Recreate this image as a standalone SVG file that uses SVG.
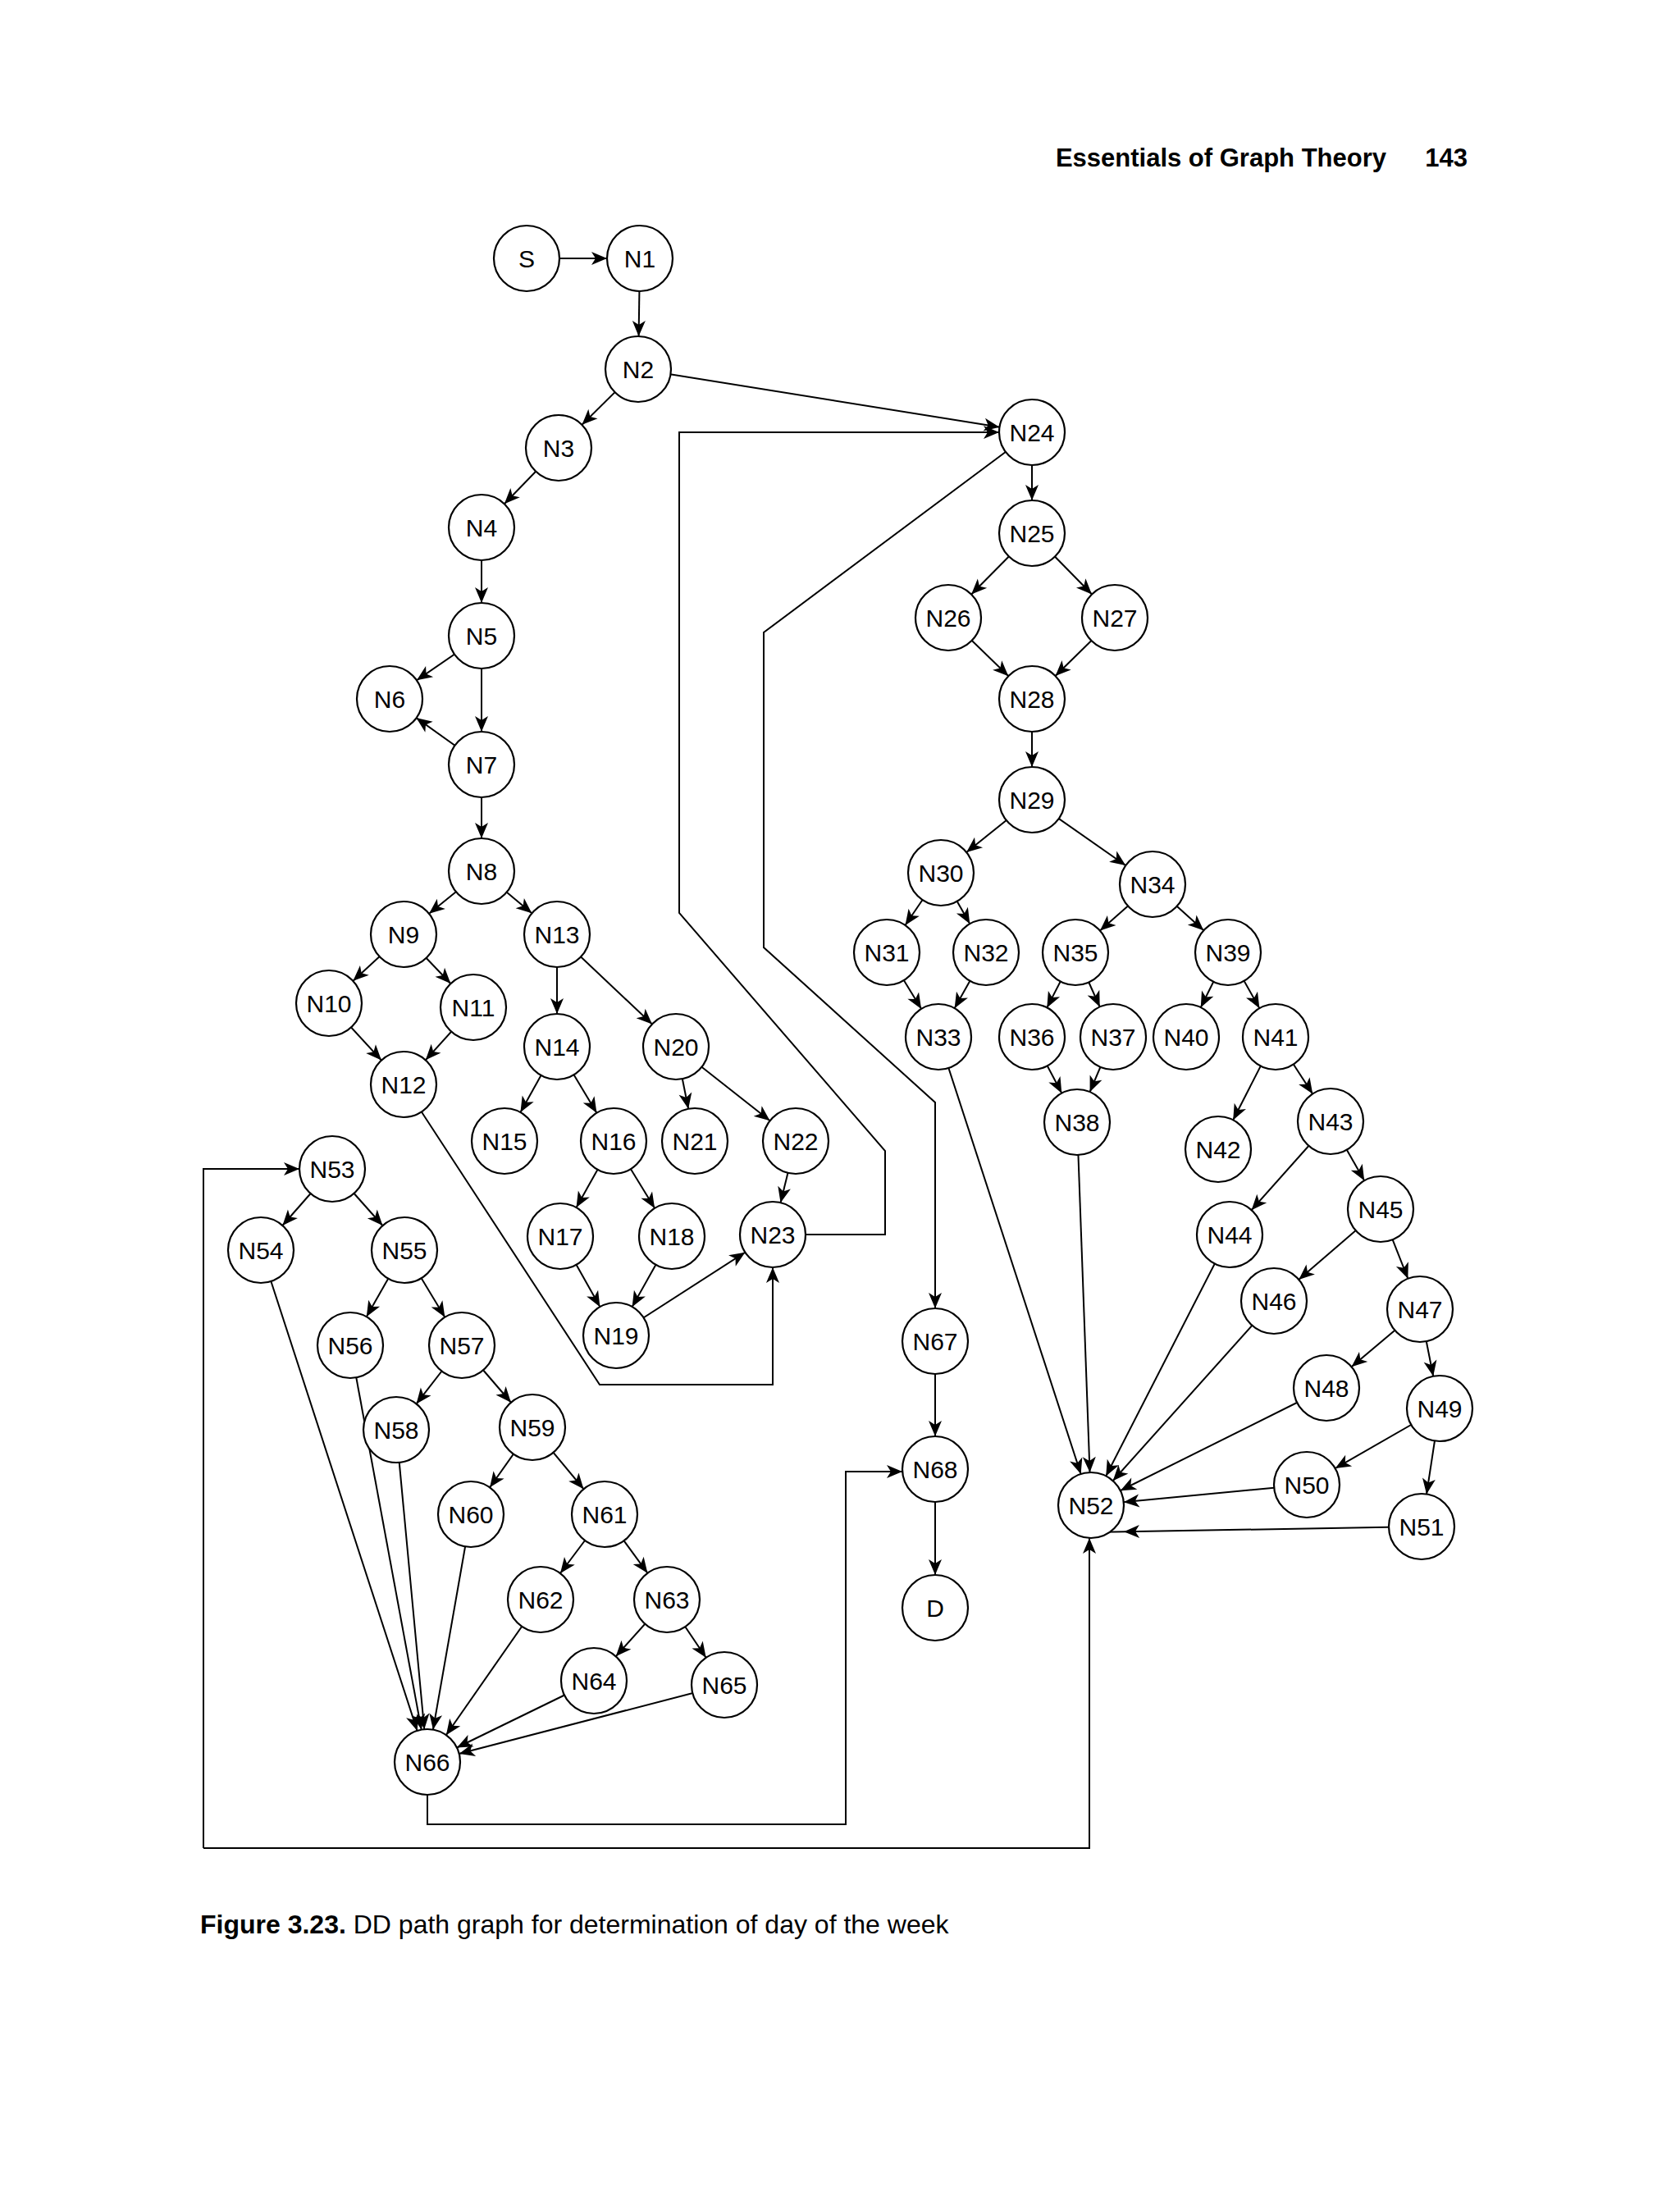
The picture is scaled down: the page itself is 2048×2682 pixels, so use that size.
<svg xmlns="http://www.w3.org/2000/svg" width="2048" height="2682" viewBox="0 0 2048 2682">
<style>
.n ellipse{fill:#fff;stroke:#000;stroke-width:2.2}
.n text{font-family:"Liberation Sans",Arial,sans-serif;font-size:30px;text-anchor:middle;fill:#000}
#edges line,#edges path{stroke:#000;stroke-width:2;fill:none;marker-end:url(#a)}
.t{font-family:"Liberation Sans",Arial,sans-serif;fill:#000}
</style>
<defs>
<marker id="a" markerUnits="userSpaceOnUse" viewBox="0 0 120 20" refX="100" refY="10" markerWidth="120" markerHeight="20" orient="auto">
<path d="M60,10 L41,2 L46,10 L41,18 Z" fill="#000"/>
</marker>
</defs>
<rect width="2048" height="2682" fill="#fff"/>
<text class="t" x="1690" y="203" font-size="31" font-weight="bold" text-anchor="end">Essentials of Graph Theory</text>
<text class="t" x="1789" y="203" font-size="31" font-weight="bold" text-anchor="end">143</text>
<text class="t" x="244" y="2357" font-size="32"><tspan font-weight="bold">Figure 3.23.</tspan> DD path graph for determination of day of the week</text>
<g id="edges">
<line x1="642" y1="315" x2="780" y2="315"/>
<line x1="780" y1="315" x2="778" y2="450"/>
<line x1="778" y1="450" x2="681" y2="546"/>
<line x1="778" y1="450" x2="1258" y2="527"/>
<line x1="681" y1="546" x2="587" y2="643"/>
<line x1="587" y1="643" x2="587" y2="775"/>
<line x1="587" y1="775" x2="475" y2="852"/>
<line x1="587" y1="775" x2="587" y2="932"/>
<line x1="587" y1="932" x2="475" y2="852"/>
<line x1="587" y1="932" x2="587" y2="1062"/>
<line x1="587" y1="1062" x2="492" y2="1139"/>
<line x1="587" y1="1062" x2="679" y2="1139"/>
<line x1="492" y1="1139" x2="401" y2="1223"/>
<line x1="492" y1="1139" x2="577" y2="1228"/>
<line x1="401" y1="1223" x2="492" y2="1322"/>
<line x1="577" y1="1228" x2="492" y2="1322"/>
<line x1="679" y1="1139" x2="679" y2="1276"/>
<line x1="679" y1="1139" x2="824" y2="1276"/>
<line x1="679" y1="1276" x2="615" y2="1391"/>
<line x1="679" y1="1276" x2="748" y2="1391"/>
<line x1="824" y1="1276" x2="847" y2="1391"/>
<line x1="824" y1="1276" x2="970" y2="1391"/>
<line x1="748" y1="1391" x2="683" y2="1507"/>
<line x1="748" y1="1391" x2="819" y2="1507"/>
<line x1="683" y1="1507" x2="751" y2="1628"/>
<line x1="819" y1="1507" x2="751" y2="1628"/>
<line x1="751" y1="1628" x2="942" y2="1505"/>
<line x1="970" y1="1391" x2="942" y2="1505"/>
<path d="M492,1322 L731,1688 L942,1688 L942,1505"/>
<path d="M942,1505 L1079,1505 L1079,1403 L828,1113 L828,527 L1258,527"/>
<path d="M1258,527 L931,771 L931,1155 L1140,1344 L1140,1635"/>
<line x1="1258" y1="527" x2="1258" y2="650"/>
<line x1="1258" y1="650" x2="1156" y2="753"/>
<line x1="1258" y1="650" x2="1359" y2="753"/>
<line x1="1156" y1="753" x2="1258" y2="852"/>
<line x1="1359" y1="753" x2="1258" y2="852"/>
<line x1="1258" y1="852" x2="1258" y2="975"/>
<line x1="1258" y1="975" x2="1147" y2="1064"/>
<line x1="1258" y1="975" x2="1405" y2="1078"/>
<line x1="1147" y1="1064" x2="1081" y2="1161"/>
<line x1="1147" y1="1064" x2="1202" y2="1161"/>
<line x1="1081" y1="1161" x2="1144" y2="1264"/>
<line x1="1202" y1="1161" x2="1144" y2="1264"/>
<line x1="1405" y1="1078" x2="1311" y2="1161"/>
<line x1="1405" y1="1078" x2="1497" y2="1161"/>
<line x1="1311" y1="1161" x2="1258" y2="1264"/>
<line x1="1311" y1="1161" x2="1357" y2="1264"/>
<line x1="1258" y1="1264" x2="1313" y2="1368"/>
<line x1="1357" y1="1264" x2="1313" y2="1368"/>
<line x1="1497" y1="1161" x2="1446" y2="1264"/>
<line x1="1497" y1="1161" x2="1555" y2="1264"/>
<line x1="1555" y1="1264" x2="1485" y2="1401"/>
<line x1="1555" y1="1264" x2="1622" y2="1367"/>
<line x1="1622" y1="1367" x2="1499" y2="1505"/>
<line x1="1622" y1="1367" x2="1683" y2="1474"/>
<line x1="1683" y1="1474" x2="1553" y2="1586"/>
<line x1="1683" y1="1474" x2="1731" y2="1596"/>
<line x1="1731" y1="1596" x2="1617" y2="1692"/>
<line x1="1731" y1="1596" x2="1755" y2="1717"/>
<line x1="1755" y1="1717" x2="1593" y2="1810"/>
<line x1="1755" y1="1717" x2="1733" y2="1861"/>
<line x1="1144" y1="1264" x2="1330" y2="1835"/>
<line x1="1313" y1="1368" x2="1330" y2="1835"/>
<line x1="1499" y1="1505" x2="1330" y2="1835"/>
<line x1="1553" y1="1586" x2="1330" y2="1835"/>
<line x1="1617" y1="1692" x2="1330" y2="1835"/>
<line x1="1593" y1="1810" x2="1330" y2="1835"/>
<line x1="1733" y1="1861" x2="1330" y2="1868"/>
<line x1="405" y1="1425" x2="318" y2="1524"/>
<line x1="405" y1="1425" x2="493" y2="1524"/>
<line x1="493" y1="1524" x2="427" y2="1640"/>
<line x1="493" y1="1524" x2="563" y2="1640"/>
<line x1="563" y1="1640" x2="483" y2="1743"/>
<line x1="563" y1="1640" x2="649" y2="1740"/>
<line x1="649" y1="1740" x2="574" y2="1846"/>
<line x1="649" y1="1740" x2="737" y2="1846"/>
<line x1="737" y1="1846" x2="659" y2="1950"/>
<line x1="737" y1="1846" x2="813" y2="1950"/>
<line x1="813" y1="1950" x2="724" y2="2049"/>
<line x1="813" y1="1950" x2="883" y2="2054"/>
<line x1="318" y1="1524" x2="521" y2="2148"/>
<line x1="427" y1="1640" x2="521" y2="2148"/>
<line x1="483" y1="1743" x2="521" y2="2148"/>
<line x1="574" y1="1846" x2="521" y2="2148"/>
<line x1="659" y1="1950" x2="521" y2="2148"/>
<line x1="724" y1="2049" x2="521" y2="2148"/>
<line x1="883" y1="2054" x2="521" y2="2148"/>
<path d="M521,2148 L521,2224 L1031,2224 L1031,1794 L1140,1794"/>
<path d="M248,2253 L248,1425 L405,1425"/>
<path d="M248,2253 L1328,2253 L1328,1835"/>
<line x1="1140" y1="1635" x2="1140" y2="1791"/>
<line x1="1140" y1="1791" x2="1140" y2="1960"/>
</g>
<g class="n" id="S"><ellipse cx="642" cy="315" rx="40" ry="40"/><text x="642" y="326">S</text></g>
<g class="n" id="N1"><ellipse cx="780" cy="315" rx="40" ry="40"/><text x="780" y="326">N1</text></g>
<g class="n" id="N2"><ellipse cx="778" cy="450" rx="40" ry="40"/><text x="778" y="461">N2</text></g>
<g class="n" id="N3"><ellipse cx="681" cy="546" rx="40" ry="40"/><text x="681" y="557">N3</text></g>
<g class="n" id="N4"><ellipse cx="587" cy="643" rx="40" ry="40"/><text x="587" y="654">N4</text></g>
<g class="n" id="N5"><ellipse cx="587" cy="775" rx="40" ry="40"/><text x="587" y="786">N5</text></g>
<g class="n" id="N6"><ellipse cx="475" cy="852" rx="40" ry="40"/><text x="475" y="863">N6</text></g>
<g class="n" id="N7"><ellipse cx="587" cy="932" rx="40" ry="40"/><text x="587" y="943">N7</text></g>
<g class="n" id="N8"><ellipse cx="587" cy="1062" rx="40" ry="40"/><text x="587" y="1073">N8</text></g>
<g class="n" id="N9"><ellipse cx="492" cy="1139" rx="40" ry="40"/><text x="492" y="1150">N9</text></g>
<g class="n" id="N10"><ellipse cx="401" cy="1223" rx="40" ry="40"/><text x="401" y="1234">N10</text></g>
<g class="n" id="N11"><ellipse cx="577" cy="1228" rx="40" ry="40"/><text x="577" y="1239">N11</text></g>
<g class="n" id="N12"><ellipse cx="492" cy="1322" rx="40" ry="40"/><text x="492" y="1333">N12</text></g>
<g class="n" id="N13"><ellipse cx="679" cy="1139" rx="40" ry="40"/><text x="679" y="1150">N13</text></g>
<g class="n" id="N14"><ellipse cx="679" cy="1276" rx="40" ry="40"/><text x="679" y="1287">N14</text></g>
<g class="n" id="N15"><ellipse cx="615" cy="1391" rx="40" ry="40"/><text x="615" y="1402">N15</text></g>
<g class="n" id="N16"><ellipse cx="748" cy="1391" rx="40" ry="40"/><text x="748" y="1402">N16</text></g>
<g class="n" id="N17"><ellipse cx="683" cy="1507" rx="40" ry="40"/><text x="683" y="1518">N17</text></g>
<g class="n" id="N18"><ellipse cx="819" cy="1507" rx="40" ry="40"/><text x="819" y="1518">N18</text></g>
<g class="n" id="N19"><ellipse cx="751" cy="1628" rx="40" ry="40"/><text x="751" y="1639">N19</text></g>
<g class="n" id="N20"><ellipse cx="824" cy="1276" rx="40" ry="40"/><text x="824" y="1287">N20</text></g>
<g class="n" id="N21"><ellipse cx="847" cy="1391" rx="40" ry="40"/><text x="847" y="1402">N21</text></g>
<g class="n" id="N22"><ellipse cx="970" cy="1391" rx="40" ry="40"/><text x="970" y="1402">N22</text></g>
<g class="n" id="N23"><ellipse cx="942" cy="1505" rx="40" ry="40"/><text x="942" y="1516">N23</text></g>
<g class="n" id="N24"><ellipse cx="1258" cy="527" rx="40" ry="40"/><text x="1258" y="538">N24</text></g>
<g class="n" id="N25"><ellipse cx="1258" cy="650" rx="40" ry="40"/><text x="1258" y="661">N25</text></g>
<g class="n" id="N26"><ellipse cx="1156" cy="753" rx="40" ry="40"/><text x="1156" y="764">N26</text></g>
<g class="n" id="N27"><ellipse cx="1359" cy="753" rx="40" ry="40"/><text x="1359" y="764">N27</text></g>
<g class="n" id="N28"><ellipse cx="1258" cy="852" rx="40" ry="40"/><text x="1258" y="863">N28</text></g>
<g class="n" id="N29"><ellipse cx="1258" cy="975" rx="40" ry="40"/><text x="1258" y="986">N29</text></g>
<g class="n" id="N30"><ellipse cx="1147" cy="1064" rx="40" ry="40"/><text x="1147" y="1075">N30</text></g>
<g class="n" id="N31"><ellipse cx="1081" cy="1161" rx="40" ry="40"/><text x="1081" y="1172">N31</text></g>
<g class="n" id="N32"><ellipse cx="1202" cy="1161" rx="40" ry="40"/><text x="1202" y="1172">N32</text></g>
<g class="n" id="N33"><ellipse cx="1144" cy="1264" rx="40" ry="40"/><text x="1144" y="1275">N33</text></g>
<g class="n" id="N34"><ellipse cx="1405" cy="1078" rx="40" ry="40"/><text x="1405" y="1089">N34</text></g>
<g class="n" id="N35"><ellipse cx="1311" cy="1161" rx="40" ry="40"/><text x="1311" y="1172">N35</text></g>
<g class="n" id="N36"><ellipse cx="1258" cy="1264" rx="40" ry="40"/><text x="1258" y="1275">N36</text></g>
<g class="n" id="N37"><ellipse cx="1357" cy="1264" rx="40" ry="40"/><text x="1357" y="1275">N37</text></g>
<g class="n" id="N38"><ellipse cx="1313" cy="1368" rx="40" ry="40"/><text x="1313" y="1379">N38</text></g>
<g class="n" id="N39"><ellipse cx="1497" cy="1161" rx="40" ry="40"/><text x="1497" y="1172">N39</text></g>
<g class="n" id="N40"><ellipse cx="1446" cy="1264" rx="40" ry="40"/><text x="1446" y="1275">N40</text></g>
<g class="n" id="N41"><ellipse cx="1555" cy="1264" rx="40" ry="40"/><text x="1555" y="1275">N41</text></g>
<g class="n" id="N42"><ellipse cx="1485" cy="1401" rx="40" ry="40"/><text x="1485" y="1412">N42</text></g>
<g class="n" id="N43"><ellipse cx="1622" cy="1367" rx="40" ry="40"/><text x="1622" y="1378">N43</text></g>
<g class="n" id="N44"><ellipse cx="1499" cy="1505" rx="40" ry="40"/><text x="1499" y="1516">N44</text></g>
<g class="n" id="N45"><ellipse cx="1683" cy="1474" rx="40" ry="40"/><text x="1683" y="1485">N45</text></g>
<g class="n" id="N46"><ellipse cx="1553" cy="1586" rx="40" ry="40"/><text x="1553" y="1597">N46</text></g>
<g class="n" id="N47"><ellipse cx="1731" cy="1596" rx="40" ry="40"/><text x="1731" y="1607">N47</text></g>
<g class="n" id="N48"><ellipse cx="1617" cy="1692" rx="40" ry="40"/><text x="1617" y="1703">N48</text></g>
<g class="n" id="N49"><ellipse cx="1755" cy="1717" rx="40" ry="40"/><text x="1755" y="1728">N49</text></g>
<g class="n" id="N50"><ellipse cx="1593" cy="1810" rx="40" ry="40"/><text x="1593" y="1821">N50</text></g>
<g class="n" id="N51"><ellipse cx="1733" cy="1861" rx="40" ry="40"/><text x="1733" y="1872">N51</text></g>
<g class="n" id="N52"><ellipse cx="1330" cy="1835" rx="40" ry="40"/><text x="1330" y="1846">N52</text></g>
<g class="n" id="N53"><ellipse cx="405" cy="1425" rx="40" ry="40"/><text x="405" y="1436">N53</text></g>
<g class="n" id="N54"><ellipse cx="318" cy="1524" rx="40" ry="40"/><text x="318" y="1535">N54</text></g>
<g class="n" id="N55"><ellipse cx="493" cy="1524" rx="40" ry="40"/><text x="493" y="1535">N55</text></g>
<g class="n" id="N56"><ellipse cx="427" cy="1640" rx="40" ry="40"/><text x="427" y="1651">N56</text></g>
<g class="n" id="N57"><ellipse cx="563" cy="1640" rx="40" ry="40"/><text x="563" y="1651">N57</text></g>
<g class="n" id="N58"><ellipse cx="483" cy="1743" rx="40" ry="40"/><text x="483" y="1754">N58</text></g>
<g class="n" id="N59"><ellipse cx="649" cy="1740" rx="40" ry="40"/><text x="649" y="1751">N59</text></g>
<g class="n" id="N60"><ellipse cx="574" cy="1846" rx="40" ry="40"/><text x="574" y="1857">N60</text></g>
<g class="n" id="N61"><ellipse cx="737" cy="1846" rx="40" ry="40"/><text x="737" y="1857">N61</text></g>
<g class="n" id="N62"><ellipse cx="659" cy="1950" rx="40" ry="40"/><text x="659" y="1961">N62</text></g>
<g class="n" id="N63"><ellipse cx="813" cy="1950" rx="40" ry="40"/><text x="813" y="1961">N63</text></g>
<g class="n" id="N64"><ellipse cx="724" cy="2049" rx="40" ry="40"/><text x="724" y="2060">N64</text></g>
<g class="n" id="N65"><ellipse cx="883" cy="2054" rx="40" ry="40"/><text x="883" y="2065">N65</text></g>
<g class="n" id="N66"><ellipse cx="521" cy="2148" rx="40" ry="40"/><text x="521" y="2159">N66</text></g>
<g class="n" id="N67"><ellipse cx="1140" cy="1635" rx="40" ry="40"/><text x="1140" y="1646">N67</text></g>
<g class="n" id="N68"><ellipse cx="1140" cy="1791" rx="40" ry="40"/><text x="1140" y="1802">N68</text></g>
<g class="n" id="D"><ellipse cx="1140" cy="1960" rx="40" ry="40"/><text x="1140" y="1971">D</text></g>
</svg>
